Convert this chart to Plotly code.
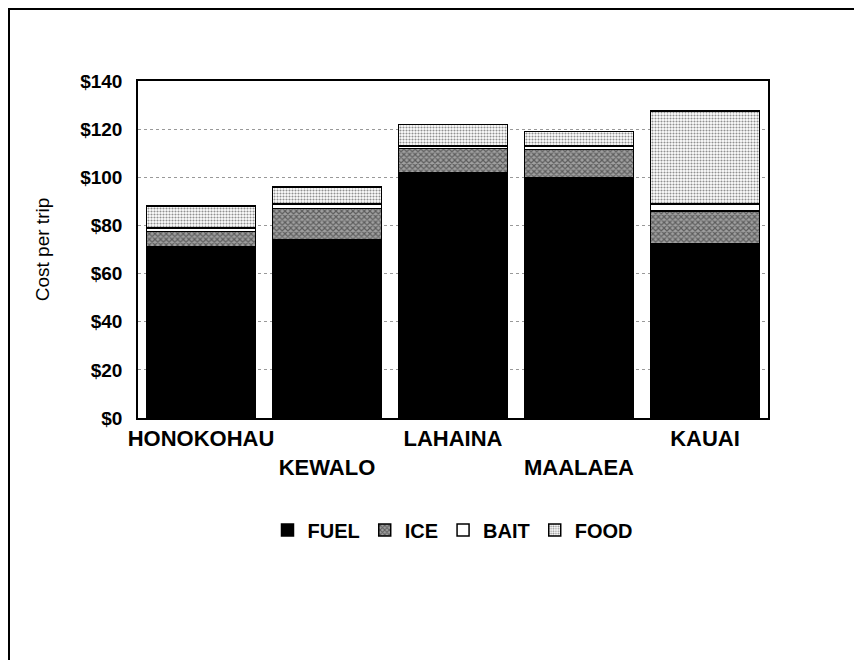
import plotly.graph_objects as go

ports = ["HONOKOHAU", "KEWALO", "LAHAINA", "MAALAEA", "KAUAI"]
port_labels = ["HONOKOHAU", "<br>KEWALO", "LAHAINA", "<br>MAALAEA", "KAUAI"]
fuel = [71, 74, 102, 100, 72.5]
ice = [6.5, 13, 10, 11.5, 13.5]
bait = [1.5, 2, 1, 1.5, 3]
food = [9, 7, 9, 6, 38.5]
y_ticks = [0, 20, 40, 60, 80, 100, 120, 140]
y_tick_text = ["$" + str(v) for v in y_ticks]

FONT = "Liberation Sans, Arial, sans-serif"

# page body has an 8px margin, so the figure is drawn 8px smaller and shifted
W, H = 854, 652
L, R, T, B = 130, 94, 73, 242
pw, ph = W - L - R, H - T - B

fig = go.Figure()
fig.add_trace(go.Bar(x=ports, y=fuel, name="FUEL",
                     marker=dict(color="black", line=dict(color="black", width=1.5))))
fig.add_trace(go.Bar(x=ports, y=ice, name="ICE",
                     marker=dict(color="#999999", line=dict(color="black", width=1.5),
                                 pattern=dict(shape="x", fgcolor="#1a1a1a", bgcolor="#a0a0a0",
                                              size=4, solidity=0.5))))
fig.add_trace(go.Bar(x=ports, y=bait, name="BAIT",
                     marker=dict(color="white", line=dict(color="black", width=1.5))))
fig.add_trace(go.Bar(x=ports, y=food, name="FOOD",
                     marker=dict(color="white", line=dict(color="black", width=1.5),
                                 pattern=dict(shape=".", fgcolor="#222222", bgcolor="white",
                                              size=3, solidity=0.4))))

fig.update_layout(
    barmode="stack",
    bargap=0.135,
    width=W, height=H,
    margin=dict(l=L, r=R, t=T, b=B),
    paper_bgcolor="white", plot_bgcolor="white",
    font=dict(family=FONT, color="black"),
    legend=dict(orientation="h", x=0.5, xanchor="center", y=-112 / ph, yanchor="middle",
                font=dict(size=20, weight="bold"), traceorder="normal",
                itemwidth=30, tracegroupgap=0),
    shapes=[dict(type="rect", xref="paper", yref="paper",
                 x0=(1 - L) / pw, x1=1.5, y0=-1.0, y1=1 + (T - 1) / ph,
                 line=dict(color="black", width=2), layer="below")],
)
fig.update_xaxes(tickvals=ports, ticktext=port_labels, showline=True, linecolor="black",
                 linewidth=1.5, mirror=True, ticks="",
                 tickfont=dict(size=22, weight="bold"))
fig.update_yaxes(range=[0, 140], tickvals=y_ticks, ticktext=y_tick_text, showline=True,
                 linecolor="black", linewidth=1.5, mirror=True, ticks="",
                 showgrid=True, gridcolor="#999999", griddash="dot", gridwidth=1,
                 ticklabelstandoff=10,
                 tickfont=dict(size=19, weight="bold"),
                 title=dict(text="Cost per trip", font=dict(size=19), standoff=26))

fig.write_html("out.html")
